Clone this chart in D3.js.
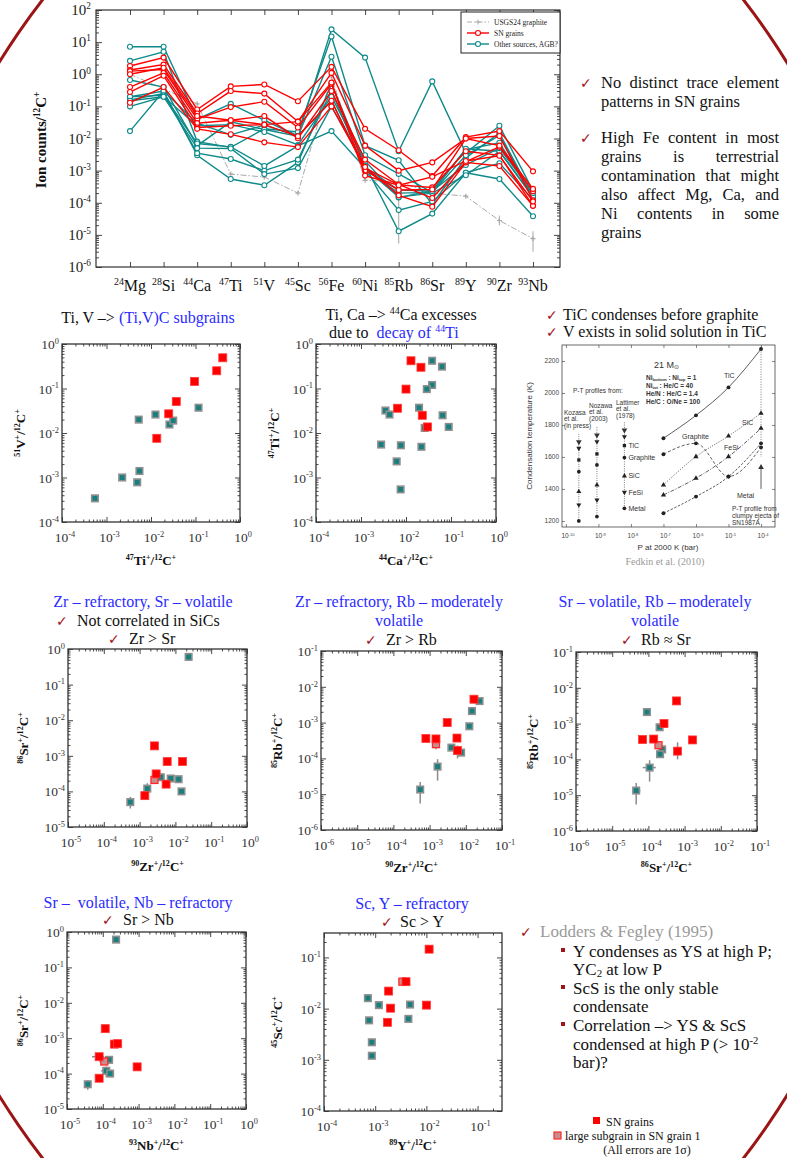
<!DOCTYPE html>
<html><head><meta charset="utf-8">
<script src="https://cdn.jsdelivr.net/npm/d3@7"></script>
<style>body{margin:0;background:#fff}svg{display:block}</style>
</head><body><svg id="c" width="787" height="1158"></svg>
<script>
// ---------------- DATA ----------------
const elements=["Mg","Si","Ca","Ti","V","Sc","Fe","Ni","Rb","Sr","Y","Zr","Nb"];
const massNumbers=["24","28","44","47","51","45","56","60","85","86","89","90","93"];
const yTickExps=[-6,-5,-4,-3,-2,-1,0,1,2];
const usgs24=[1.0,0.35,0.12,7.8e-4,6.3e-4,2e-4,0.83,5e-4,4.5e-4,2e-4,1.6e-4,2.8e-5,7.6e-6];
const usgs24Err=[["Rb",5.4e-6,1.2e-3],["Zr",2e-5,4e-5],["Nb",3e-6,1.3e-5]];
const snGrains=[
 [1.8,3.3,0.08,0.42,0.48,0.145,1.7,0.02,4.3e-3,6.8e-4,0.011,0.017,9.5e-4],
 [1.35,2.0,0.06,0.30,0.25,0.0336,1.1,6e-3,1.0e-3,1.8e-3,0.010,0.012,1.2e-4],
 [1.25,1.4,0.04,0.095,0.14,0.022,0.5,1.2e-3,3.6e-4,3e-4,4e-3,3e-3,8e-5],
 [0.4,1.1,0.03,0.037,0.05,0.0102,0.3,2.2e-3,3.7e-4,1.4e-4,1.9e-3,5.5e-3,2.3e-4],
 [0.28,0.9,0.022,0.025,0.027,0.0117,0.15,1.0e-3,2.5e-4,2.6e-4,0.01,6e-3,2.7e-4],
 [0.13,0.4,0.02,0.0135,0.0076,0.0054,0.1,1.3e-3,1.7e-4,7.5e-5,1.8e-3,1.4e-3,8e-5],
 [1.0,1.6,0.05,0.037,0.027,0.0336,0.55,7e-4,3.5e-4,6.4e-4,2e-3,2.9e-3,1.1e-4]
];
const otherGrains=[
 [7.2,7.2,0.04,0.12,0.037,0.012,25,3.3,4e-3,0.6,3.5e-3,0.025,2.35e-4],
 [2.6,5.0,0.008,0.0053,0.02,0.016,15,6e-3,2.1e-3,9e-5,2.5e-3,0.0148,1.6e-4],
 [0.66,0.4,0.006,0.033,0.019,0.0117,3.5,3e-3,7.9e-4,2.1e-4,3e-3,0.0125,1.5e-4],
 [0.2,0.3,0.003,5.5e-4,3.5e-4,0.0018,0.5,1.5e-3,1.3e-5,4.6e-5,8.6e-4,5.5e-4,3.8e-5],
 [0.16,0.25,0.0035,2.3e-3,1e-3,0.0022,0.3,1e-3,5.9e-5,1.1e-4,8.6e-4,1.7e-3,1.25e-4],
 [0.1,0.2,0.025,0.027,0.016,0.0063,0.2,2e-3,1.45e-4,2.4e-4,4.5e-3,7.4e-3,1.6e-4],
 [0.017,0.3,0.03,0.013,0.026,0.012,0.15,1.1e-3,2e-4,2.1e-4,4.8e-3,4e-3,1.5e-4],
 [0.2,0.22,0.007,5.5e-3,1.4e-3,0.0059,0.017,1.2e-3,1.5e-4,2e-4,7.2e-4,4e-3,1.6e-4],
 [0.15,0.2,0.005,4.9e-3,7.8e-4,1.2e-3,0.1,1.3e-3,2.5e-4,2.3e-4,1.5e-3,5e-3,2e-4]
];
const legendLabels=["USGS24 graphite","SN grains","Other sources, AGB?"];

const tiV_sn=[[0.41,0.49],[0.30,0.25],[0.095,0.144],[0.037,0.051],[0.025,0.027],[0.0135,0.0076]];
const tiV_other=[[5.5e-4,3.4e-4],[2.25e-3,1e-3],[4.9e-3,7.8e-4],[5.5e-3,1.4e-3],[5.3e-3,0.02],[0.0126,0.026],[0.026,0.0155],[0.0316,0.019],[0.117,0.037]];
const caTi_sn=[[0.0129,0.42],[0.0215,0.30],[0.010,0.097],[0.0065,0.036],[0.023,0.025],[0.030,0.0137]];
const caTi_other=[[0.038,0.42],[0.063,0.31],[0.038,0.12],[0.029,0.097],[0.0195,0.037],[0.0035,0.032],[0.0043,0.026],[0.065,0.025],[0.026,0.013],[0.089,0.0137],[0.0028,0.0055],[0.0077,0.0053],[0.022,0.0049],[0.0062,0.0023],[0.0076,5.4e-4]];
const zrSr_sn=[[2.6e-3,1.9e-3],[2.9e-3,3.1e-4],[1.4e-3,7.6e-5],[5.5e-3,1.6e-4],[5.9e-3,6.9e-4],[0.0158,6.9e-4]];
const zrSr_sub=[[2.6e-3,2.1e-4]];
const zrSr_other=[[0.0234,0.6],[5.5e-4,5e-5],[1.64e-3,1.2e-4],[3.9e-3,2.5e-4],[7.4e-3,2.3e-4],[0.0123,2.2e-4],[0.0148,1e-4]];
const zrSr_yerr=[[5.5e-4,3.3e-5,7e-5],[1.64e-3,9e-5,1.7e-4],[5.9e-3,6e-4,8.5e-4],[0.0148,8.5e-5,1.15e-4],[2.6e-3,1.8e-4,2.5e-4]];
const zrRb_sn=[[0.0168,4.5e-3],[3.07e-3,1e-3],[7.9e-4,3.6e-4],[1.5e-3,3.5e-4],[5.7e-3,3.7e-4],[5.9e-3,1.66e-4]];
const zrRb_sub=[[1.5e-3,2.5e-4]];
const zrRb_other=[[5.5e-4,1.35e-5],[1.66e-3,5.9e-5],[4e-3,2e-4],[7.4e-3,1.45e-4],[0.0125,7.9e-4],[0.0148,2.1e-3],[0.024,4e-3]];
const zrRb_yerr=[[5.5e-4,5.5e-6,2.2e-5],[1.66e-3,2.4e-5,9.5e-5],[5.9e-3,1e-4,2.3e-4],[1.5e-3,1.8e-4,3e-4],[4e-3,1.7e-4,2.3e-4]];
const srRb_sn=[[6.9e-5,3.6e-4],[1.4e-4,3.7e-4],[2.7e-4,1e-3],[6e-4,4.3e-3],[1.66e-3,3.5e-4],[6.4e-4,1.7e-4]];
const srRb_sub=[[1.9e-4,2.5e-4]];
const srRb_other=[[4.6e-5,1.35e-5],[1.08e-4,5.9e-5],[9.1e-5,2.1e-3],[2.04e-4,7.9e-4],[2.4e-4,1.9e-4],[2.1e-4,1.4e-4]];
const srRb_yerr=[[4.6e-5,5.5e-6,2.2e-5],[1.08e-4,2.4e-5,9.5e-5],[6.4e-4,1e-4,3e-4]];
const srRb_xerr=[[1.35e-5,3.5e-5,6e-5],[5.9e-5,7e-5,1.6e-4],[2.5e-4,1.5e-4,2.4e-4]];
const nbSr_sn=[[1.17e-4,1.86e-3],[2.1e-4,6.8e-4],[2.6e-4,7e-4],[7.9e-5,3e-4],[7.9e-5,7.4e-5],[9.1e-4,1.55e-4]];
const nbSr_sub=[[1.1e-4,2.2e-4]];
const nbSr_other=[[2.35e-4,0.61],[3.8e-5,5e-5],[1.25e-4,1.2e-4],[1.6e-4,1e-4],[1.5e-4,2.45e-4]];
const nbSr_yerr=[[3.8e-5,3.5e-5,6.5e-5],[1.25e-4,8e-5,1.6e-4]];
const nbSr_xerr=[[5e-5,3e-5,4.8e-5],[1.2e-4,9e-5,1.7e-4],[3e-4,5e-5,1.1e-4],[7e-4,2.2e-4,3.3e-4],[2.2e-4,8e-5,1.3e-4]];
const ySc_sn=[[0.0113,0.145],[4e-3,0.0336],[1.83e-3,0.022],[2e-3,0.0102],[1.74e-3,5.4e-3],[0.01,0.0117]];
const ySc_sub=[[3.4e-3,0.0336]];
const ySc_other=[[7.2e-4,0.016],[1.18e-3,0.0117],[4.8e-3,0.012],[4.45e-3,6.3e-3],[7.6e-4,5.9e-3],[8.6e-4,2.2e-3],[8.6e-4,1.2e-3]];

const condP=[1e-7,1e-6,1e-5,1e-4];
const condTiC=[1717,1860,2035,2275];
const condSiC=[1425,1602,1731,1873];
const condGraphite=[1617,1685,1478,1660];
const condFeSi=[1362,1467,1602,1779];
const condMetal=[1248,1352,1477,1685];
const profileP=[2.5e-10,9e-10,6.3e-9];
const profileT=[[1654,1581,1508,1383,1300,1200],[1696,1619,1550,1425,1331,1227],[1727,1671,1596,1481,1379,1279]];
const lattimerLabels=["TiC","Graphite","SiC","FeSi","Metal"];
const condXTicks=[-10,-9,-8,-7,-6,-5,-4];
const condYTicks=[1200,1400,1600,1800,2000,2200];

// ---------------- HELPERS ----------------
const SERIF="'Liberation Serif','Times New Roman',serif", SANS="'Liberation Sans',Arial,sans-serif";
const RED="#ff0000", TEAL="#0f8a8a", DARKRED="#a0151c", BLUE="#2b2bff";
const svg=d3.select("#c");
svg.append("rect").attr("width",787).attr("height",1158).attr("fill","#fff");
svg.append("ellipse").attr("cx",393).attr("cy",579).attr("rx",530).attr("ry",772)
  .attr("fill","none").attr("stroke","#9b1515").attr("stroke-width",3);

function rich(t,segs,fs){
  let cur=0;
  segs.forEach(([str,fill])=>{
    str.split(/(\^\{[^}]*\}|_\{[^}]*\})/).filter(s=>s.length).forEach(p=>{
      let sh=0,sz=fs,tx=p;
      if(p.startsWith("^{")){sh=-0.38*fs;sz=0.62*fs;tx=p.slice(2,-1);}
      else if(p.startsWith("_{")){sh=0.14*fs;sz=0.64*fs;tx=p.slice(2,-1);}
      const ts=t.append("tspan").attr("dy",sh-cur).attr("font-size",sz).text(tx);
      if(fill) ts.attr("fill",fill);
      cur=sh;
    });
  });
  return t;
}
function txt(g,x,y,segs,fs,o={}){
  const t=g.append("text").attr("x",x).attr("y",y).attr("font-family",o.family||SERIF)
    .attr("font-size",fs).attr("text-anchor",o.anchor||"start").attr("fill",o.fill||"#111")
    .style("white-space","pre");
  if(o.weight) t.attr("font-weight",o.weight);
  if(o.rotate) t.attr("transform",`rotate(${o.rotate},${x},${y})`);
  if(typeof segs==="string") segs=[[segs,null]];
  return rich(t,segs,fs);
}
function check(x,y,fs){
  svg.append("text").attr("x",x).attr("y",y).attr("font-family","'DejaVu Sans',sans-serif")
    .attr("font-size",fs||14).attr("font-weight","bold").attr("fill",DARKRED).text("\u2713");
}
function logTicks(dom){
  const lo=Math.floor(Math.log10(dom[0])-1e-9), hi=Math.ceil(Math.log10(dom[1])+1e-9);
  const maj=[],min=[];
  for(let e=lo;e<=hi;e++){
    const v=Math.pow(10,e);
    if(v>=dom[0]*0.999&&v<=dom[1]*1.001) maj.push(e);
    for(let k=2;k<=9;k++){const m=k*v; if(m>dom[0]&&m<dom[1]) min.push(m);}
  }
  return {maj,min};
}
function expLabel(e){return "10^{"+(e<0?"-"+(-e):""+e)+"}";}
function tickGroup(g,axisFn,scale,vals,size,tr){
  const a=g.append("g").attr("transform",tr).call(axisFn(scale).tickValues(vals).tickSize(size).tickFormat(""));
  a.select(".domain").remove();
  a.selectAll("line").attr("stroke","#333").attr("stroke-width",0.9);
}
function justify(lines,x0,x1,y0,lh,fs,fill){
  lines.forEach((ln,i)=>{
    const y=y0+i*lh;
    const words=ln.split(" ");
    if(i===lines.length-1){ txt(svg,x0,y,ln,fs,{fill}); return; }
    const ws=words.map(w=>{const t=svg.append("text").attr("font-family",SERIF).attr("font-size",fs).text(w);
      const L=t.node().getComputedTextLength(); t.remove(); return L;});
    const gap=(x1-x0-d3.sum(ws))/(words.length-1);
    let cx=x0;
    words.forEach((w,j)=>{svg.append("text").attr("x",cx).attr("y",y).attr("font-family",SERIF)
      .attr("font-size",fs).attr("fill",fill||"#111").text(w); cx+=ws[j]+gap;});
  });
}

// ---------------- TOP LINE CHART ----------------
(function(){
  const L=96,R=560,T=10,B=267;
  const x=d3.scalePoint().domain(elements).range([130,533]);
  const y=d3.scaleLog().domain([1e-6,100]).range([B,T]);
  const g=svg.append("g");
  const yt=logTicks([1e-6,100]);
  const majV=yt.maj.map(e=>Math.pow(10,e));
  tickGroup(g,d3.axisLeft,y,majV,-6,`translate(${L},0)`);
  tickGroup(g,d3.axisLeft,y,yt.min,-3,`translate(${L},0)`);
  tickGroup(g,d3.axisRight,y,majV,-6,`translate(${R},0)`);
  tickGroup(g,d3.axisRight,y,yt.min,-3,`translate(${R},0)`);
  tickGroup(g,d3.axisBottom,x,elements,-5,`translate(0,${B})`);
  tickGroup(g,d3.axisTop,x,elements,-5,`translate(0,${T})`);
  g.append("rect").attr("x",L).attr("y",T).attr("width",R-L).attr("height",B-T)
    .attr("fill","none").attr("stroke","#333").attr("stroke-width",1.2);
  yTickExps.forEach(e=>txt(g,91,y(Math.pow(10,e))+5,expLabel(e),15,{anchor:"end",fill:"#222"}));
  elements.forEach((el,i)=>txt(g,x(el),291,"^{"+massNumbers[i]+"}"+el,16,{anchor:"middle",fill:"#111"}));
  txt(g,46,140,"Ion counts/^{12}C^{+}",15,{anchor:"middle",weight:"bold",rotate:-90});

  const line=d3.line().defined(d=>d!=null).x((d,i)=>x(elements[i])).y(d=>y(d));
  usgs24Err.forEach(([el,lo,hi])=>g.append("line").attr("x1",x(el)).attr("x2",x(el)).attr("y1",y(lo)).attr("y2",y(hi))
    .attr("stroke","#b5b5b5").attr("stroke-width",1.2));
  g.append("path").attr("d",line(usgs24)).attr("fill","none").attr("stroke","#a8a8a8").attr("stroke-width",1)
    .attr("stroke-dasharray","6,2,1.5,2");
  usgs24.forEach((v,i)=>g.append("path").attr("d",`M${x(elements[i])-2.5},${y(v)}h5M${x(elements[i])},${y(v)-2.5}v5`)
    .attr("stroke","#aaa").attr("stroke-width",1.2));
  function series(data,col){
    data.forEach(s=>{
      g.append("path").attr("d",line(s)).attr("fill","none").attr("stroke",col).attr("stroke-width",1.4);
      g.selectAll(null).data(s).enter().append("circle").attr("cx",(d,i)=>x(elements[i])).attr("cy",d=>y(d))
        .attr("r",2.5).attr("fill","#fff").attr("stroke",col).attr("stroke-width",1.1);
    });
  }
  series(otherGrains,TEAL);
  series(snGrains,RED);
  const lg=g.append("g");
  lg.append("rect").attr("x",461).attr("y",12).attr("width",99).attr("height",41).attr("fill","#fff").attr("stroke","#222").attr("stroke-width",1);
  const ly=[22,33,44], cols=["#aaa",RED,TEAL];
  ly.forEach((yy,i)=>{
    const ln=lg.append("line").attr("x1",467).attr("x2",489).attr("y1",yy).attr("y2",yy).attr("stroke",cols[i]).attr("stroke-width",i?1.4:1);
    if(i===0){ln.attr("stroke-dasharray","5,2,1.5,2"); lg.append("path").attr("d",`M475.5,${yy}h5M478,${yy-2.5}v5`).attr("stroke","#aaa");}
    else lg.append("circle").attr("cx",478).attr("cy",yy).attr("r",2.5).attr("fill","#fff").attr("stroke",cols[i]).attr("stroke-width",1.1);
    txt(lg,494,yy+2.5,legendLabels[i],7.5,{fill:"#222"});
  });
})();

check(580,88);
justify(["No distinct trace element","patterns in SN grains"],601,779,88,19,16.5);
check(580,143);
justify(["High Fe content in most","grains is terrestrial","contamination that might","also affect Mg, Ca, and","Ni contents in some","grains"],601,779,143,19,16.5);

// ---------------- SCATTER PANELS ----------------
function panel(c){
  const x=d3.scaleLog().domain(c.xd).range([c.l,c.r]);
  const y=d3.scaleLog().domain(c.yd).range([c.b,c.t]);
  const g=svg.append("g");
  const xt=logTicks(c.xd), yt=logTicks(c.yd);
  const xm=xt.maj.map(e=>Math.pow(10,e)), ym=yt.maj.map(e=>Math.pow(10,e));
  tickGroup(g,d3.axisBottom,x,xm,-5,`translate(0,${c.b})`);
  tickGroup(g,d3.axisBottom,x,xt.min,-2.5,`translate(0,${c.b})`);
  tickGroup(g,d3.axisTop,x,xm,-5,`translate(0,${c.t})`);
  tickGroup(g,d3.axisTop,x,xt.min,-2.5,`translate(0,${c.t})`);
  tickGroup(g,d3.axisLeft,y,ym,-5,`translate(${c.l},0)`);
  tickGroup(g,d3.axisLeft,y,yt.min,-2.5,`translate(${c.l},0)`);
  tickGroup(g,d3.axisRight,y,ym,-5,`translate(${c.r},0)`);
  tickGroup(g,d3.axisRight,y,yt.min,-2.5,`translate(${c.r},0)`);
  g.append("rect").attr("x",c.l).attr("y",c.t).attr("width",c.r-c.l).attr("height",c.b-c.t)
    .attr("fill","none").attr("stroke","#333").attr("stroke-width",1.3);
  xt.maj.forEach(e=>txt(g,x(Math.pow(10,e))+3,c.b+20,expLabel(e),13.5,{anchor:"middle",fill:"#333"}));
  yt.maj.forEach(e=>txt(g,c.l-3,y(Math.pow(10,e))+5,expLabel(e),13.5,{anchor:"end",fill:"#333"}));
  txt(g,(c.l+c.r)/2,c.xlY,c.xlab,13,{anchor:"middle",weight:"bold"});
  txt(g,c.ylX,(c.t+c.b)/2,c.ylab,13,{anchor:"middle",weight:"bold",rotate:-90});
  (c.yerr||[]).forEach(([px,lo,hi])=>g.append("line").attr("x1",x(px)).attr("x2",x(px)).attr("y1",y(lo)).attr("y2",y(hi)).attr("stroke","#8c8c8c").attr("stroke-width",1.5));
  (c.xerr||[]).forEach(([py,lo,hi])=>g.append("line").attr("y1",y(py)).attr("y2",y(py)).attr("x1",x(lo)).attr("x2",x(hi)).attr("stroke","#8c8c8c").attr("stroke-width",1.5));
  function sq(data,s,fill,stroke,sw){
    g.selectAll(null).data(data).enter().append("rect").attr("x",d=>x(d[0])-s/2).attr("y",d=>y(d[1])-s/2)
      .attr("width",s).attr("height",s).attr("fill",fill).attr("stroke",stroke).attr("stroke-width",sw);
  }
  sq(c.other||[],6.5,"#17807f","#8e8e8e",1.6);
  sq(c.sub||[],7,"#c98c8c","#ff2a2a",1.3);
  sq(c.sn||[],8,RED,"#ff3b3b",0.8);
}
panel({l:62,t:344,r:240,b:522,xd:[1e-4,1],yd:[1e-4,1],xlY:565,ylX:25,
  xlab:"^{47}Ti^{+}/^{12}C^{+}",ylab:"^{51}V^{+}/^{12}C^{+}",sn:tiV_sn,other:tiV_other});
panel({l:316,t:344,r:496,b:522,xd:[1e-4,1],yd:[1e-4,1],xlY:565,ylX:279,
  xlab:"^{44}Ca^{+}/^{12}C^{+}",ylab:"^{47}Ti^{+}/^{12}C^{+}",sn:caTi_sn,other:caTi_other});
panel({l:68,t:649,r:247,b:827,xd:[1e-5,1],yd:[1e-5,1],xlY:871,ylX:28,
  xlab:"^{90}Zr^{+}/^{12}C^{+}",ylab:"^{86}Sr^{+}/^{12}C^{+}",sn:zrSr_sn,sub:zrSr_sub,other:zrSr_other,yerr:zrSr_yerr});
panel({l:321,t:651,r:502,b:830,xd:[1e-6,0.1],yd:[1e-6,0.1],xlY:872,ylX:282,
  xlab:"^{90}Zr^{+}/^{12}C^{+}",ylab:"^{85}Rb^{+}/^{12}C^{+}",sn:zrRb_sn,sub:zrRb_sub,other:zrRb_other,yerr:zrRb_yerr});
panel({l:576,t:652,r:757,b:831,xd:[1e-6,0.1],yd:[1e-6,0.1],xlY:872,ylX:538,
  xlab:"^{86}Sr^{+}/^{12}C^{+}",ylab:"^{85}Rb^{+}/^{12}C^{+}",sn:srRb_sn,sub:srRb_sub,other:srRb_other,yerr:srRb_yerr,xerr:srRb_xerr});
panel({l:67,t:932,r:246,b:1109,xd:[1e-5,1],yd:[1e-5,1],xlY:1150,ylX:28,
  xlab:"^{93}Nb^{+}/^{12}C^{+}",ylab:"^{86}Sr^{+}/^{12}C^{+}",sn:nbSr_sn,sub:nbSr_sub,other:nbSr_other,yerr:nbSr_yerr,xerr:nbSr_xerr});
panel({l:324,t:933,r:502,b:1111,xd:[1e-4,0.3],yd:[1e-4,0.3],xlY:1150,ylX:282,
  xlab:"^{89}Y^{+}/^{12}C^{+}",ylab:"^{45}Sc^{+}/^{12}C^{+}",sn:ySc_sn,sub:ySc_sub,other:ySc_other});

// titles
txt(svg,148,323,[["Ti, V \u2013> ",null],["(Ti,V)C subgrains",BLUE]],16,{anchor:"middle"});
txt(svg,401,320,"Ti, Ca \u2013> ^{44}Ca excesses",16,{anchor:"middle"});
txt(svg,329,338,[["due to  ",null],["decay of ^{44}Ti",BLUE]],16);
check(546,320); txt(svg,563,320,"TiC condenses before graphite",16);
check(546,337); txt(svg,563,337,"V exists in solid solution in TiC",16);

txt(svg,143,607,"Zr \u2013 refractory, Sr \u2013 volatile",16,{anchor:"middle",fill:BLUE});
check(56,626); txt(svg,77,626,"Not correlated in SiCs",16);
check(108,644); txt(svg,129,644,"Zr > Sr",16);
txt(svg,399,607,"Zr \u2013 refractory, Rb \u2013 moderately",16,{anchor:"middle",fill:BLUE});
txt(svg,399,626,"volatile",16,{anchor:"middle",fill:BLUE});
check(365,645); txt(svg,386,645,"Zr > Rb",16);
txt(svg,655,607,"Sr \u2013 volatile, Rb \u2013 moderately",16,{anchor:"middle",fill:BLUE});
txt(svg,655,626,"volatile",16,{anchor:"middle",fill:BLUE});
check(621,645); txt(svg,641,645,"Rb \u2248 Sr",16);
txt(svg,138,908,"Sr \u2013  volatile, Nb \u2013 refractory",16,{anchor:"middle",fill:BLUE});
check(102,925); txt(svg,123,925,"Sr > Nb",16);
txt(svg,412,909,"Sc, Y \u2013 refractory",16,{anchor:"middle",fill:BLUE});
check(381,927); txt(svg,400,927,"Sc > Y",16);

// bottom-right text
check(520,937); txt(svg,540,937,"Lodders & Fegley (1995)",17,{fill:"#9a9a9a"});
const bullets=[[957,"Y condenses as YS at high P;"],[975,"YC_{2} at low P",false],[994,"ScS is the only stable"],[1012,"condensate",false],[1031,"Correlation \u2013> YS & ScS"],[1050,"condensed at high P (> 10^{-2}",false],[1068,"bar)?",false]];
bullets.forEach(([yy,s,b])=>{
  if(b!==false) svg.append("rect").attr("x",561).attr("y",yy-9).attr("width",4).attr("height",4).attr("fill",DARKRED);
  txt(svg,573,yy,s,17);
});
svg.append("rect").attr("x",593).attr("y",1117).attr("width",7).attr("height",7).attr("fill",RED);
txt(svg,606,1126,"SN grains",12);
svg.append("rect").attr("x",554).attr("y",1132).attr("width",7).attr("height",7).attr("fill","#c98c8c").attr("stroke","#ff2a2a").attr("stroke-width",1.2);
txt(svg,565,1140,"large subgrain in SN grain 1",12);
txt(svg,647,1154,"(All errors are 1\u03c3)",12,{anchor:"middle"});

// ---------------- CONDENSATION INSET ----------------
(function(){
  const L=562,R=775,T=345,B=527;
  const x=d3.scaleLog().domain([Math.pow(10,-10.12),Math.pow(10,-3.57)]).range([L,R]);
  const y=d3.scaleLinear().domain([1162,2300]).range([B,T]);
  const g=svg.append("g");
  const xm=condXTicks.map(e=>Math.pow(10,e));
  tickGroup(g,d3.axisBottom,x,xm,-3,`translate(0,${B})`);
  tickGroup(g,d3.axisTop,x,xm,-3,`translate(0,${T})`);
  tickGroup(g,d3.axisLeft,y,condYTicks,-3,`translate(${L},0)`);
  tickGroup(g,d3.axisRight,y,condYTicks,-3,`translate(${R},0)`);
  g.selectAll("line").attr("stroke-width",0.6);
  g.append("rect").attr("x",L).attr("y",T).attr("width",R-L).attr("height",B-T).attr("fill","none").attr("stroke","#444").attr("stroke-width",0.8);
  condXTicks.forEach(e=>txt(g,x(Math.pow(10,e))+2,538,expLabel(e),6.5,{anchor:"middle",fill:"#444",family:SANS}));
  condYTicks.forEach(v=>txt(g,L-3,y(v)+2.5,""+v,6.5,{anchor:"end",fill:"#444",family:SANS}));
  txt(g,668,550,"P at 2000 K (bar)",8,{anchor:"middle",fill:"#333",family:SANS});
  txt(g,532,436,"Condensation temperature (K)",8,{anchor:"middle",fill:"#333",family:SANS,rotate:-90});
  const ln=d3.line().x((d,i)=>x(condP[i])).y(d=>y(d)).curve(d3.curveMonotoneX);
  const curves=[[condTiC,null,d3.symbolCircle],[condSiC,"1,1.5",d3.symbolTriangle],[condGraphite,"3,2",d3.symbolCircle],[condFeSi,"4,1.5,1,1.5",d3.symbolTriangle],[condMetal,"2.5,1.5",d3.symbolCircle]];
  curves.forEach(([d,dash,sym])=>{
    const p=g.append("path").attr("d",ln(d)).attr("fill","none").attr("stroke","#333").attr("stroke-width",0.8);
    if(dash) p.attr("stroke-dasharray",dash);
    d.forEach((v,i)=>g.append("path").attr("d",d3.symbol(sym,12)()).attr("transform",`translate(${x(condP[i])},${y(v)})`).attr("fill","#222"));
  });
  g.append("line").attr("x1",x(1e-4)).attr("x2",x(1e-4)).attr("y1",y(2290)).attr("y2",y(1600)).attr("stroke","#444").attr("stroke-width",0.7).attr("stroke-dasharray","1,1.5");
  g.append("line").attr("x1",x(1e-4)).attr("x2",x(1e-4)).attr("y1",y(1400)).attr("y2",y(1530)).attr("stroke","#333").attr("stroke-width",0.8);
  g.append("path").attr("d",d3.symbol(d3.symbolTriangle,14)()).attr("transform",`translate(${x(1e-4)},${y(1535)})`).attr("fill","#333");
  const shapes=[d3.symbolTriangle,d3.symbolSquare,d3.symbolCircle,d3.symbolTriangle,d3.symbolTriangle,d3.symbolCircle];
  const rots=[180,0,0,0,180,0];
  profileP.forEach((p,k)=>{
    const ts=profileT[k];
    g.append("line").attr("x1",x(p)).attr("x2",x(p)).attr("y1",y(ts[0]+90)).attr("y2",y(ts[5]-10)).attr("stroke","#444").attr("stroke-width",0.7).attr("stroke-dasharray","1,1.3");
    g.append("path").attr("d",d3.symbol(d3.symbolTriangle,14)()).attr("transform",`translate(${x(p)},${y(ts[0]+40)}) rotate(180)`).attr("fill","#333");
    ts.forEach((v,i)=>g.append("path").attr("d",d3.symbol(shapes[i],11)()).attr("transform",`translate(${x(p)},${y(v)}) rotate(${rots[i]})`).attr("fill","#222"));
  });
  lattimerLabels.forEach((s,i)=>txt(g,x(profileP[2])+4,y(profileT[2][i+1])+2.5,s,7,{fill:"#333",family:SANS}));
  const f=(s,xx,yy,o={})=>txt(g,xx,yy,s,o.fs||6.5,Object.assign({fill:"#333",family:SANS},o));
  f("P-T profiles from:",573,393);
  f("Kozasa",564,415);f("et al.",564,421);f("(in press)",564,428);
  f("Nozawa",589,408);f("et al.",589,414);f("(2003)",589,421);
  f("Lattimer",616,405);f("et al.",616,411);f("(1978)",616,418);
  f("21 M_{\u2299}",654,368,{fs:9});
  f("Ni_{bottom} : Ni_{top} = 1",646,380,{weight:"bold"});
  f("Ni_{tot} : He/C = 40",646,388,{weight:"bold"});
  f("He/N : He/C = 1.4",646,396,{weight:"bold"});
  f("He/C : O/Ne = 100",646,404,{weight:"bold"});
  f("TiC",724,378,{fs:7});f("SiC",742,425,{fs:7});f("Graphite",682,439,{fs:7});
  f("FeSi",724,450,{fs:7});f("Metal",737,498,{fs:7});
  f("P-T profile from",732,511);f("clumpy ejecta of",732,518);f("SN1987A",732,525);
  txt(svg,665,565,"Fedkin et al. (2010)",10,{anchor:"middle",fill:"#999"});
})();
</script></body></html>
